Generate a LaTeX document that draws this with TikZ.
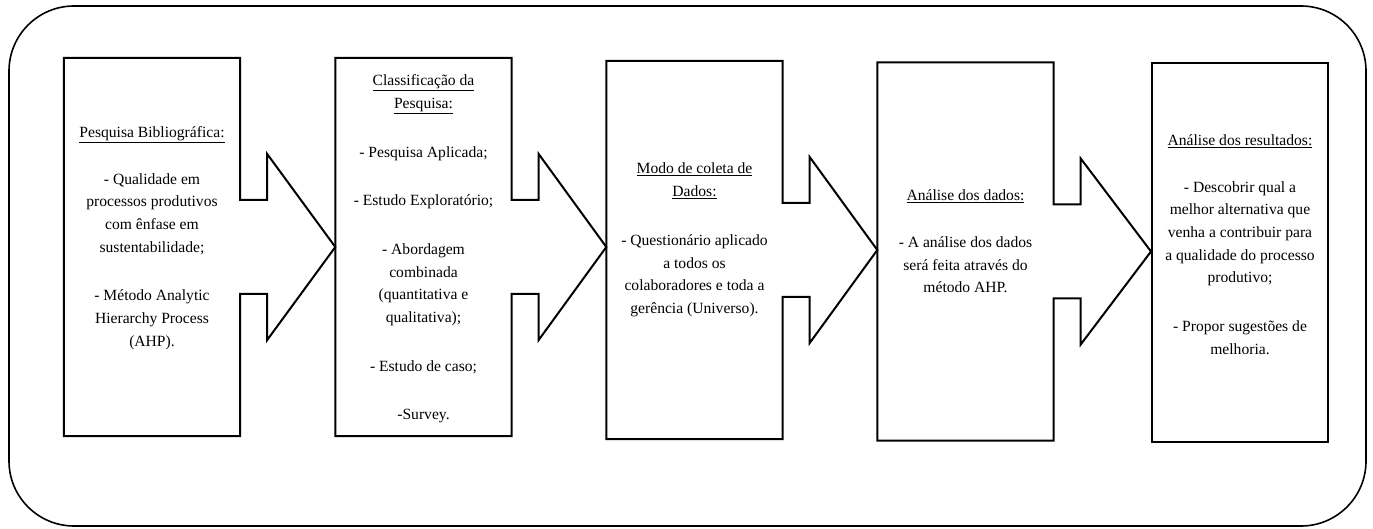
\documentclass[tikz,border=0pt]{standalone}
\usepackage{fontspec}
\setmainfont{Liberation Serif}
\usepackage{tikz}

\begin{document}
\begin{tikzpicture}[x=1pt, y=-1pt,
	stage/.style={rectangle, minimum width=176pt, minimum height=378pt, inner sep=0pt},
	stagetext/.style={align=center, inner sep=0pt, font=\fontsize{15.6}{22.7}\selectfont},
	outline/.style={line width=2pt, line join=miter},
	frame/.style={line width=1.6pt, rounded corners=65pt}]
\useasboundingbox (0,0) rectangle (1373,529);
\draw[frame] (9,6) rectangle (1366,526);

\node[stage] (b1) at (152,247) {};
\node[stage] (b2) at (423.5,247) {};
\node[stage] (b3) at (694.5,250) {};
\node[stage] (b4) at (965.5,251.5) {};
\node[stage, draw, line width=2pt] (b5) at (1240,252.5) {};

\foreach \i/\j in {1/2,2/3,3/4,4/5}
\draw[outline] (b\i.north west) -- (b\i.north east) -- ([yshift=47pt]b\i.east)
	-- ([xshift=27pt,yshift=47pt]b\i.east) -- ([xshift=27pt,yshift=93pt]b\i.east)
	-- (b\i.east -| b\j.west)
	-- ([xshift=27pt,yshift=-93pt]b\i.east) -- ([xshift=27pt,yshift=-47pt]b\i.east)
	-- ([yshift=-47pt]b\i.east) -- (b\i.south east) -- (b\i.south west) -- cycle;

\node[stagetext] (t1) at ([yshift=9pt]b1.center) {\underline{Pesquisa Bibliográfica:}\\[24pt]
	- Qualidade em\\processos produtivos\\com ênfase em\\sustentabilidade;\\[26pt]
	- Método Analytic\\Hierarchy Process\\(AHP).};
\node[stagetext] (t2) at ([yshift=-2pt]b2.center) {\underline{Classificação da}\\\underline{Pesquisa:}\\[26pt]
	- Pesquisa Aplicada;\\[26pt]- Estudo Exploratório;\\[26pt]
	- Abordagem\\combinada\\(quantitativa e\\qualitativa);\\[26pt]
	- Estudo de caso;\\[26pt]-Survey.};
\node[stagetext] (t3) at ([yshift=10pt]b3.center) {\underline{Modo de coleta de}\\\underline{Dados:}\\[26pt]
	- Questionário aplicado\\a todos os\\colaboradores e toda a\\gerência (Universo).};
\node[stagetext] (t4) at ([yshift=10pt]b4.center) {\underline{Análise dos dados:}\\[24pt]
	- A análise dos dados\\será feita através do\\método AHP.};
\node[stagetext] (t5) at ([yshift=8pt]b5.center) {\underline{Análise dos resultados:}\\[24pt]
	- Descobrir qual a\\melhor alternativa que\\venha a contribuir para\\a qualidade do processo\\produtivo;\\[26pt]
	- Propor sugestões de\\melhoria.};
\end{tikzpicture}
\end{document}
